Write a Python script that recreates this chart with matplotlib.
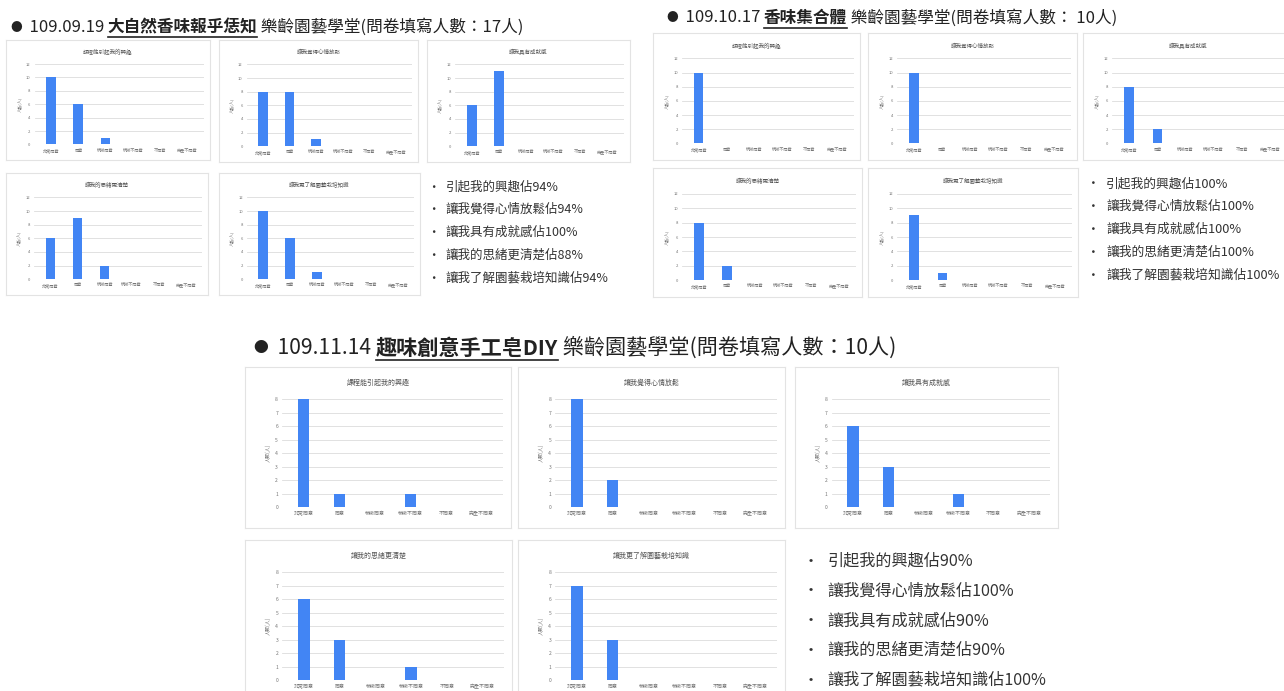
import matplotlib
matplotlib.use("Agg")
import matplotlib.pyplot as plt
from matplotlib.lines import Line2D

plt.rcParams['font.family'] = ['Noto Sans CJK TC', 'DejaVu Sans']

W, H = 1284, 691

# 問卷選項
cats = ['非常同意', '同意', '稍微同意', '稍微不同意', '不同意', '完全不同意']
questions = ['課程能引起我的興趣', '讓我覺得心情放鬆', '讓我具有成就感',
             '讓我的思緒更清楚', '讓我更了解園藝栽培知識']

# 109.09.19 大自然香味報乎恁知 (17人)
s1_interest = [10, 6, 1, 0, 0, 0]
s1_relax = [8, 8, 1, 0, 0, 0]
s1_achieve = [6, 11, 0, 0, 0, 0]
s1_clear = [6, 9, 2, 0, 0, 0]
s1_knowledge = [10, 6, 1, 0, 0, 0]
s1_bullets = ['引起我的興趣佔94%', '讓我覺得心情放鬆佔94%', '讓我具有成就感佔100%',
              '讓我的思緒更清楚佔88%', '讓我了解園藝栽培知識佔94%']

# 109.10.17 香味集合體 (10人)
s2_interest = [10, 0, 0, 0, 0, 0]
s2_relax = [10, 0, 0, 0, 0, 0]
s2_achieve = [8, 2, 0, 0, 0, 0]
s2_clear = [8, 2, 0, 0, 0, 0]
s2_knowledge = [9, 1, 0, 0, 0, 0]
s2_bullets = ['引起我的興趣佔100%', '讓我覺得心情放鬆佔100%', '讓我具有成就感佔100%',
              '讓我的思緒更清楚佔100%', '讓我了解園藝栽培知識佔100%']

# 109.11.14 趣味創意手工皂DIY (10人)
s3_interest = [8, 1, 0, 1, 0, 0]
s3_relax = [8, 2, 0, 0, 0, 0]
s3_achieve = [6, 3, 0, 1, 0, 0]
s3_clear = [6, 3, 0, 1, 0, 0]
s3_knowledge = [7, 3, 0, 0, 0, 0]
s3_bullets = ['引起我的興趣佔90%', '讓我覺得心情放鬆佔100%', '讓我具有成就感佔90%',
              '讓我的思緒更清楚佔90%', '讓我了解園藝栽培知識佔100%']

BLUE = '#4285F4'

fig = plt.figure(figsize=(W / 100, H / 100), dpi=100)
fig.patch.set_facecolor('white')
renderer = fig.canvas.get_renderer()


def panel(box, title, vals, ymax, ystep, fs=3.6, tfs=4.6, bw=0.32):
    x0, y0, x1, y1 = box
    w, h = x1 - x0, y1 - y0
    frame = fig.add_axes([x0 / W, 1 - y1 / H, w / W, h / H])
    frame.set_xticks([])
    frame.set_yticks([])
    for sp in frame.spines.values():
        sp.set_color('#e3e3e3')
        sp.set_linewidth(0.8)
    frame.text(0.5, 0.9, title, ha='center', va='center', fontsize=tfs, color='#555555',
               transform=frame.transAxes)

    left = x0 + 0.14 * w
    right = x1 - 0.03 * w
    top = y0 + 0.2 * h
    bottom = y1 - 0.13 * h
    ax = fig.add_axes([left / W, 1 - bottom / H, (right - left) / W, (bottom - top) / H])
    ax.set_facecolor('none')
    ax.bar(range(len(cats)), vals, width=bw, color=BLUE, zorder=3)
    ax.set_ylim(0, ymax)
    ax.set_xlim(-0.6, len(cats) - 0.4)
    ax.set_yticks(range(0, ymax + 1, ystep))
    ax.set_xticks(range(len(cats)))
    ax.set_xticklabels(cats)
    ax.tick_params(length=0, labelsize=fs, colors='#777777', pad=3)
    ax.grid(axis='y', color='#dcdcdc', linewidth=0.6, zorder=0)
    for sp in ax.spines.values():
        sp.set_visible(False)
    ax.set_ylabel('人數(人)', fontsize=fs, color='#777777', labelpad=3)


def rich_title(x, y, parts, fs):
    cx = x
    for s, bold, under, scale in parts:
        t = fig.text(cx / W, 1 - y / H, s, fontsize=fs * scale, color='#222222',
                     fontweight='bold' if bold else 'normal', va='center', ha='left')
        bb = t.get_window_extent(renderer)
        if under:
            yy = (bb.y0 - 1) / H
            fig.add_artist(Line2D([bb.x0 / W, bb.x1 / W], [yy, yy], color='#222222',
                                  linewidth=1.2, transform=fig.transFigure))
        cx = bb.x1


def bullets(x, y, gap, lines, fs):
    for i, s in enumerate(lines):
        yy = 1 - (y + i * gap) / H
        fig.text(x / W, yy, '•', fontsize=fs, color='#333333', va='center', ha='left')
        fig.text((x + fs * 2.1) / W, yy, s, fontsize=fs, color='#333333', va='center', ha='left')


# ---- 第一場 ----
rich_title(10, 27, [('●', False, False, 0.7), ('  109.09.19 ', False, False, 1),
                    ('大自然香味報乎恁知', True, True, 1),
                    (' 樂齡園藝學堂(問卷填寫人數：17人)', False, False, 1)], 12)
s1 = [s1_interest, s1_relax, s1_achieve, s1_clear, s1_knowledge]
boxes1 = [(6, 40, 210, 160), (219, 40, 418, 162), (427, 40, 630, 162),
          (6, 173, 208, 295), (219, 173, 420, 295)]
for b, q, v in zip(boxes1, questions, s1):
    panel(b, q, v, 12, 2, fs=3.0, tfs=4.0, bw=0.36)
bullets(427, 187, 22.8, s1_bullets, 9)

# ---- 第二場 ----
rich_title(666, 18, [('●', False, False, 0.7), ('  109.10.17 ', False, False, 1),
                     ('香味集合體', True, True, 1),
                     (' 樂齡園藝學堂(問卷填寫人數： 10人)', False, False, 1)], 12)
s2 = [s2_interest, s2_relax, s2_achieve, s2_clear, s2_knowledge]
boxes2 = [(653, 33, 860, 160), (868, 33, 1077, 160), (1083, 33, 1293, 160),
          (653, 168, 862, 297), (868, 168, 1078, 297)]
for b, q, v in zip(boxes2, questions, s2):
    panel(b, q, v, 12, 2, fs=3.0, tfs=4.0, bw=0.34)
bullets(1087, 184, 22.8, s2_bullets, 9.2)

# ---- 第三場 ----
rich_title(253, 348, [('●', False, False, 0.7), ('  109.11.14 ', False, False, 1),
                      ('趣味創意手工皂DIY', True, True, 1),
                      (' 樂齡園藝學堂(問卷填寫人數：10人)', False, False, 1)], 15.2)
s3 = [s3_interest, s3_relax, s3_achieve, s3_clear, s3_knowledge]
boxes3 = [(245, 367, 511, 528), (518, 367, 785, 528), (795, 367, 1058, 528),
          (245, 540, 512, 701), (518, 540, 785, 701)]
for b, q, v in zip(boxes3, questions, s3):
    panel(b, q, v, 8, 1, fs=3.6, tfs=5.0, bw=0.32)
bullets(803, 561, 29.8, s3_bullets, 11.6)

fig.savefig('out.png', dpi=100, facecolor='white')
